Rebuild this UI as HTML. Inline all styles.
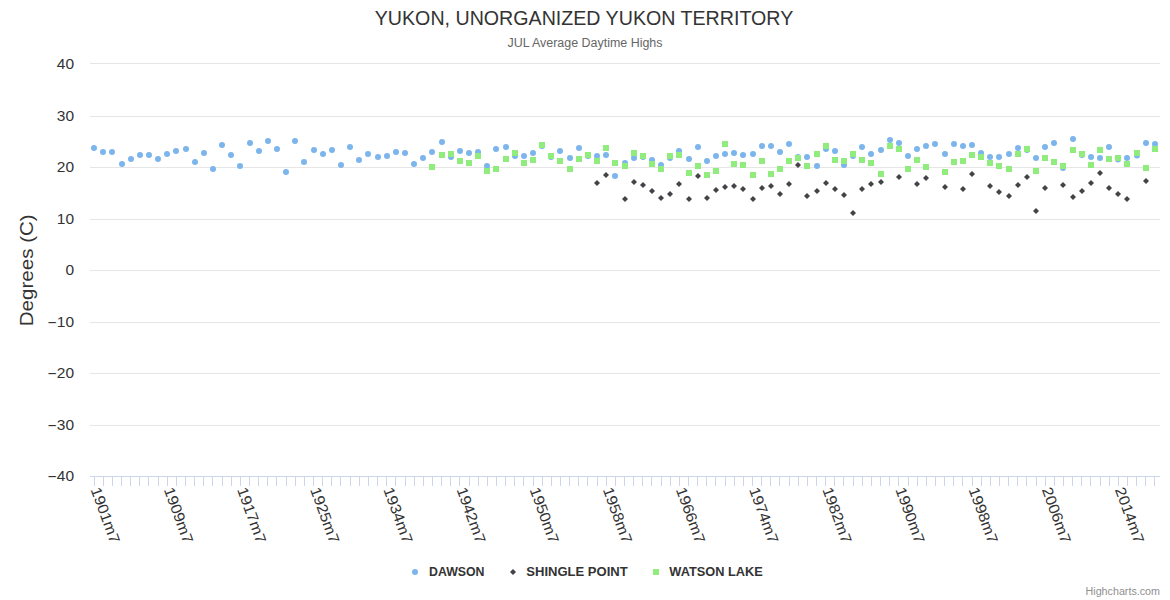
<!DOCTYPE html><html><head><meta charset="utf-8"><style>html,body{margin:0;padding:0;background:#fff;overflow:hidden;}svg{display:block;font-family:"Liberation Sans",sans-serif;}</style></head><body>
<svg width="1170" height="600" viewBox="0 0 1170 600">
<rect x="0" y="0" width="1170" height="600" fill="#ffffff"/>
<path d="M90 63.5 L1160 63.5 M90 116.5 L1160 116.5 M90 167.5 L1160 167.5 M90 219.5 L1160 219.5 M90 270.5 L1160 270.5 M90 322.5 L1160 322.5 M90 373.5 L1160 373.5 M90 425.5 L1160 425.5" stroke="#e6e6e6" stroke-width="1" fill="none"/>
<path d="M90 476.5 L1160 476.5" stroke="#ccd6eb" stroke-width="1" fill="none"/>
<path d="M94.5 476 L94.5 486 M103.5 476 L103.5 486 M112.5 476 L112.5 486 M121.5 476 L121.5 486 M130.5 476 L130.5 486 M139.5 476 L139.5 486 M148.5 476 L148.5 486 M158.5 476 L158.5 486 M167.5 476 L167.5 486 M176.5 476 L176.5 486 M185.5 476 L185.5 486 M194.5 476 L194.5 486 M203.5 476 L203.5 486 M212.5 476 L212.5 486 M222.5 476 L222.5 486 M231.5 476 L231.5 486 M240.5 476 L240.5 486 M249.5 476 L249.5 486 M258.5 476 L258.5 486 M267.5 476 L267.5 486 M276.5 476 L276.5 486 M286.5 476 L286.5 486 M295.5 476 L295.5 486 M304.5 476 L304.5 486 M313.5 476 L313.5 486 M322.5 476 L322.5 486 M331.5 476 L331.5 486 M340.5 476 L340.5 486 M350.5 476 L350.5 486 M359.5 476 L359.5 486 M368.5 476 L368.5 486 M377.5 476 L377.5 486 M386.5 476 L386.5 486 M395.5 476 L395.5 486 M405.5 476 L405.5 486 M414.5 476 L414.5 486 M423.5 476 L423.5 486 M432.5 476 L432.5 486 M441.5 476 L441.5 486 M450.5 476 L450.5 486 M459.5 476 L459.5 486 M469.5 476 L469.5 486 M478.5 476 L478.5 486 M487.5 476 L487.5 486 M496.5 476 L496.5 486 M505.5 476 L505.5 486 M514.5 476 L514.5 486 M523.5 476 L523.5 486 M533.5 476 L533.5 486 M542.5 476 L542.5 486 M551.5 476 L551.5 486 M560.5 476 L560.5 486 M569.5 476 L569.5 486 M578.5 476 L578.5 486 M587.5 476 L587.5 486 M597.5 476 L597.5 486 M606.5 476 L606.5 486 M615.5 476 L615.5 486 M624.5 476 L624.5 486 M633.5 476 L633.5 486 M642.5 476 L642.5 486 M651.5 476 L651.5 486 M661.5 476 L661.5 486 M670.5 476 L670.5 486 M679.5 476 L679.5 486 M688.5 476 L688.5 486 M697.5 476 L697.5 486 M706.5 476 L706.5 486 M715.5 476 L715.5 486 M725.5 476 L725.5 486 M734.5 476 L734.5 486 M743.5 476 L743.5 486 M752.5 476 L752.5 486 M761.5 476 L761.5 486 M770.5 476 L770.5 486 M779.5 476 L779.5 486 M789.5 476 L789.5 486 M798.5 476 L798.5 486 M807.5 476 L807.5 486 M816.5 476 L816.5 486 M825.5 476 L825.5 486 M834.5 476 L834.5 486 M843.5 476 L843.5 486 M853.5 476 L853.5 486 M862.5 476 L862.5 486 M871.5 476 L871.5 486 M880.5 476 L880.5 486 M889.5 476 L889.5 486 M898.5 476 L898.5 486 M908.5 476 L908.5 486 M917.5 476 L917.5 486 M926.5 476 L926.5 486 M935.5 476 L935.5 486 M944.5 476 L944.5 486 M953.5 476 L953.5 486 M962.5 476 L962.5 486 M972.5 476 L972.5 486 M981.5 476 L981.5 486 M990.5 476 L990.5 486 M999.5 476 L999.5 486 M1008.5 476 L1008.5 486 M1017.5 476 L1017.5 486 M1026.5 476 L1026.5 486 M1036.5 476 L1036.5 486 M1045.5 476 L1045.5 486 M1054.5 476 L1054.5 486 M1063.5 476 L1063.5 486 M1072.5 476 L1072.5 486 M1081.5 476 L1081.5 486 M1090.5 476 L1090.5 486 M1100.5 476 L1100.5 486 M1109.5 476 L1109.5 486 M1118.5 476 L1118.5 486 M1127.5 476 L1127.5 486 M1136.5 476 L1136.5 486 M1145.5 476 L1145.5 486 M1154.5 476 L1154.5 486" stroke="#ccd6eb" stroke-width="1" fill="none"/>
<text x="74.1" y="69.0" text-anchor="end" font-size="15.5" fill="#333333">40</text>
<text x="74.1" y="121.0" text-anchor="end" font-size="15.5" fill="#333333">30</text>
<text x="74.1" y="172.0" text-anchor="end" font-size="15.5" fill="#333333">20</text>
<text x="74.1" y="224.0" text-anchor="end" font-size="15.5" fill="#333333">10</text>
<text x="74.1" y="275.0" text-anchor="end" font-size="15.5" fill="#333333">0</text>
<text x="74.1" y="327.0" text-anchor="end" font-size="15.5" fill="#333333">10</text>
<text x="47.6" y="327.9" font-size="15.5" fill="#333333">−</text>
<text x="74.1" y="378.0" text-anchor="end" font-size="15.5" fill="#333333">20</text>
<text x="47.6" y="378.9" font-size="15.5" fill="#333333">−</text>
<text x="74.1" y="430.0" text-anchor="end" font-size="15.5" fill="#333333">30</text>
<text x="47.6" y="430.9" font-size="15.5" fill="#333333">−</text>
<text x="74.1" y="481.0" text-anchor="end" font-size="15.5" fill="#333333">40</text>
<text x="47.6" y="481.9" font-size="15.5" fill="#333333">−</text>
<text transform="translate(32.5,270.3) rotate(-90)" text-anchor="middle" font-size="19" fill="#333333" textLength="112" lengthAdjust="spacingAndGlyphs">Degrees (C)</text>
<text transform="translate(90.57,489.50) rotate(70.0)" font-size="15" fill="#333333" textLength="58.5" lengthAdjust="spacingAndGlyphs">1901m7</text>
<text transform="translate(163.74,489.50) rotate(70.0)" font-size="15" fill="#333333" textLength="58.5" lengthAdjust="spacingAndGlyphs">1909m7</text>
<text transform="translate(236.90,489.50) rotate(70.0)" font-size="15" fill="#333333" textLength="58.5" lengthAdjust="spacingAndGlyphs">1917m7</text>
<text transform="translate(310.06,489.50) rotate(70.0)" font-size="15" fill="#333333" textLength="58.5" lengthAdjust="spacingAndGlyphs">1925m7</text>
<text transform="translate(383.22,489.50) rotate(70.0)" font-size="15" fill="#333333" textLength="58.5" lengthAdjust="spacingAndGlyphs">1934m7</text>
<text transform="translate(456.38,489.50) rotate(70.0)" font-size="15" fill="#333333" textLength="58.5" lengthAdjust="spacingAndGlyphs">1942m7</text>
<text transform="translate(529.55,489.50) rotate(70.0)" font-size="15" fill="#333333" textLength="58.5" lengthAdjust="spacingAndGlyphs">1950m7</text>
<text transform="translate(602.71,489.50) rotate(70.0)" font-size="15" fill="#333333" textLength="58.5" lengthAdjust="spacingAndGlyphs">1958m7</text>
<text transform="translate(675.87,489.50) rotate(70.0)" font-size="15" fill="#333333" textLength="58.5" lengthAdjust="spacingAndGlyphs">1966m7</text>
<text transform="translate(749.03,489.50) rotate(70.0)" font-size="15" fill="#333333" textLength="58.5" lengthAdjust="spacingAndGlyphs">1974m7</text>
<text transform="translate(822.20,489.50) rotate(70.0)" font-size="15" fill="#333333" textLength="58.5" lengthAdjust="spacingAndGlyphs">1982m7</text>
<text transform="translate(895.36,489.50) rotate(70.0)" font-size="15" fill="#333333" textLength="58.5" lengthAdjust="spacingAndGlyphs">1990m7</text>
<text transform="translate(968.52,489.50) rotate(70.0)" font-size="15" fill="#333333" textLength="58.5" lengthAdjust="spacingAndGlyphs">1998m7</text>
<text transform="translate(1041.68,489.50) rotate(70.0)" font-size="15" fill="#333333" textLength="58.5" lengthAdjust="spacingAndGlyphs">2006m7</text>
<text transform="translate(1114.85,489.50) rotate(70.0)" font-size="15" fill="#333333" textLength="58.5" lengthAdjust="spacingAndGlyphs">2014m7</text>
<circle cx="94" cy="148.00" r="3" fill="#7cb5ec"/>
<circle cx="103" cy="152.00" r="3" fill="#7cb5ec"/>
<circle cx="112" cy="152.00" r="3" fill="#7cb5ec"/>
<circle cx="122" cy="164.00" r="3" fill="#7cb5ec"/>
<circle cx="131" cy="159.00" r="3" fill="#7cb5ec"/>
<circle cx="140" cy="155.00" r="3" fill="#7cb5ec"/>
<circle cx="149" cy="155.00" r="3" fill="#7cb5ec"/>
<circle cx="158" cy="159.00" r="3" fill="#7cb5ec"/>
<circle cx="167" cy="154.00" r="3" fill="#7cb5ec"/>
<circle cx="176" cy="151.00" r="3" fill="#7cb5ec"/>
<circle cx="186" cy="149.00" r="3" fill="#7cb5ec"/>
<circle cx="195" cy="162.00" r="3" fill="#7cb5ec"/>
<circle cx="204" cy="153.00" r="3" fill="#7cb5ec"/>
<circle cx="213" cy="169.00" r="3" fill="#7cb5ec"/>
<circle cx="222" cy="145.00" r="3" fill="#7cb5ec"/>
<circle cx="231" cy="155.00" r="3" fill="#7cb5ec"/>
<circle cx="240" cy="166.00" r="3" fill="#7cb5ec"/>
<circle cx="250" cy="143.00" r="3" fill="#7cb5ec"/>
<circle cx="259" cy="151.00" r="3" fill="#7cb5ec"/>
<circle cx="268" cy="141.00" r="3" fill="#7cb5ec"/>
<circle cx="277" cy="149.00" r="3" fill="#7cb5ec"/>
<circle cx="286" cy="172.00" r="3" fill="#7cb5ec"/>
<circle cx="295" cy="141.00" r="3" fill="#7cb5ec"/>
<circle cx="304" cy="162.00" r="3" fill="#7cb5ec"/>
<circle cx="314" cy="150.00" r="3" fill="#7cb5ec"/>
<circle cx="323" cy="154.00" r="3" fill="#7cb5ec"/>
<circle cx="332" cy="150.00" r="3" fill="#7cb5ec"/>
<circle cx="341" cy="165.00" r="3" fill="#7cb5ec"/>
<circle cx="350" cy="147.00" r="3" fill="#7cb5ec"/>
<circle cx="359" cy="160.00" r="3" fill="#7cb5ec"/>
<circle cx="368" cy="154.00" r="3" fill="#7cb5ec"/>
<circle cx="378" cy="157.00" r="3" fill="#7cb5ec"/>
<circle cx="387" cy="156.00" r="3" fill="#7cb5ec"/>
<circle cx="396" cy="152.00" r="3" fill="#7cb5ec"/>
<circle cx="405" cy="153.00" r="3" fill="#7cb5ec"/>
<circle cx="414" cy="164.00" r="3" fill="#7cb5ec"/>
<circle cx="423" cy="158.00" r="3" fill="#7cb5ec"/>
<circle cx="432" cy="152.00" r="3" fill="#7cb5ec"/>
<circle cx="442" cy="142.00" r="3" fill="#7cb5ec"/>
<circle cx="451" cy="157.00" r="3" fill="#7cb5ec"/>
<circle cx="460" cy="151.00" r="3" fill="#7cb5ec"/>
<circle cx="469" cy="153.00" r="3" fill="#7cb5ec"/>
<circle cx="478" cy="152.00" r="3" fill="#7cb5ec"/>
<circle cx="487" cy="166.00" r="3" fill="#7cb5ec"/>
<circle cx="496" cy="149.00" r="3" fill="#7cb5ec"/>
<circle cx="506" cy="147.00" r="3" fill="#7cb5ec"/>
<circle cx="515" cy="156.00" r="3" fill="#7cb5ec"/>
<circle cx="524" cy="156.00" r="3" fill="#7cb5ec"/>
<circle cx="533" cy="153.00" r="3" fill="#7cb5ec"/>
<circle cx="542" cy="146.00" r="3" fill="#7cb5ec"/>
<circle cx="551" cy="157.00" r="3" fill="#7cb5ec"/>
<circle cx="560" cy="151.00" r="3" fill="#7cb5ec"/>
<circle cx="570" cy="158.00" r="3" fill="#7cb5ec"/>
<circle cx="579" cy="148.00" r="3" fill="#7cb5ec"/>
<circle cx="588" cy="156.00" r="3" fill="#7cb5ec"/>
<circle cx="597" cy="156.00" r="3" fill="#7cb5ec"/>
<circle cx="606" cy="155.00" r="3" fill="#7cb5ec"/>
<circle cx="615" cy="176.00" r="3" fill="#7cb5ec"/>
<circle cx="625" cy="163.00" r="3" fill="#7cb5ec"/>
<circle cx="634" cy="158.00" r="3" fill="#7cb5ec"/>
<circle cx="643" cy="157.00" r="3" fill="#7cb5ec"/>
<circle cx="652" cy="160.00" r="3" fill="#7cb5ec"/>
<circle cx="661" cy="165.00" r="3" fill="#7cb5ec"/>
<circle cx="670" cy="158.00" r="3" fill="#7cb5ec"/>
<circle cx="679" cy="151.00" r="3" fill="#7cb5ec"/>
<circle cx="689" cy="159.00" r="3" fill="#7cb5ec"/>
<circle cx="698" cy="147.00" r="3" fill="#7cb5ec"/>
<circle cx="707" cy="161.00" r="3" fill="#7cb5ec"/>
<circle cx="716" cy="156.00" r="3" fill="#7cb5ec"/>
<circle cx="725" cy="154.00" r="3" fill="#7cb5ec"/>
<circle cx="734" cy="153.00" r="3" fill="#7cb5ec"/>
<circle cx="743" cy="155.00" r="3" fill="#7cb5ec"/>
<circle cx="753" cy="154.00" r="3" fill="#7cb5ec"/>
<circle cx="762" cy="146.00" r="3" fill="#7cb5ec"/>
<circle cx="771" cy="146.00" r="3" fill="#7cb5ec"/>
<circle cx="780" cy="152.00" r="3" fill="#7cb5ec"/>
<circle cx="789" cy="144.00" r="3" fill="#7cb5ec"/>
<circle cx="798" cy="157.00" r="3" fill="#7cb5ec"/>
<circle cx="807" cy="157.00" r="3" fill="#7cb5ec"/>
<circle cx="817" cy="166.00" r="3" fill="#7cb5ec"/>
<circle cx="826" cy="149.00" r="3" fill="#7cb5ec"/>
<circle cx="835" cy="151.00" r="3" fill="#7cb5ec"/>
<circle cx="844" cy="165.00" r="3" fill="#7cb5ec"/>
<circle cx="853" cy="156.00" r="3" fill="#7cb5ec"/>
<circle cx="862" cy="147.00" r="3" fill="#7cb5ec"/>
<circle cx="871" cy="154.00" r="3" fill="#7cb5ec"/>
<circle cx="881" cy="150.00" r="3" fill="#7cb5ec"/>
<circle cx="890" cy="140.00" r="3" fill="#7cb5ec"/>
<circle cx="899" cy="143.00" r="3" fill="#7cb5ec"/>
<circle cx="908" cy="156.00" r="3" fill="#7cb5ec"/>
<circle cx="917" cy="149.00" r="3" fill="#7cb5ec"/>
<circle cx="926" cy="146.00" r="3" fill="#7cb5ec"/>
<circle cx="935" cy="144.00" r="3" fill="#7cb5ec"/>
<circle cx="945" cy="154.00" r="3" fill="#7cb5ec"/>
<circle cx="954" cy="144.00" r="3" fill="#7cb5ec"/>
<circle cx="963" cy="146.00" r="3" fill="#7cb5ec"/>
<circle cx="972" cy="145.00" r="3" fill="#7cb5ec"/>
<circle cx="981" cy="153.00" r="3" fill="#7cb5ec"/>
<circle cx="990" cy="157.00" r="3" fill="#7cb5ec"/>
<circle cx="999" cy="157.00" r="3" fill="#7cb5ec"/>
<circle cx="1009" cy="154.00" r="3" fill="#7cb5ec"/>
<circle cx="1018" cy="148.00" r="3" fill="#7cb5ec"/>
<circle cx="1027" cy="150.00" r="3" fill="#7cb5ec"/>
<circle cx="1036" cy="158.00" r="3" fill="#7cb5ec"/>
<circle cx="1045" cy="147.00" r="3" fill="#7cb5ec"/>
<circle cx="1054" cy="143.00" r="3" fill="#7cb5ec"/>
<circle cx="1063" cy="168.00" r="3" fill="#7cb5ec"/>
<circle cx="1073" cy="139.00" r="3" fill="#7cb5ec"/>
<circle cx="1082" cy="155.00" r="3" fill="#7cb5ec"/>
<circle cx="1091" cy="157.00" r="3" fill="#7cb5ec"/>
<circle cx="1100" cy="158.00" r="3" fill="#7cb5ec"/>
<circle cx="1109" cy="147.00" r="3" fill="#7cb5ec"/>
<circle cx="1118" cy="159.50" r="3" fill="#7cb5ec"/>
<circle cx="1127" cy="158.00" r="3" fill="#7cb5ec"/>
<circle cx="1137" cy="155.50" r="3" fill="#7cb5ec"/>
<circle cx="1146" cy="143.00" r="3" fill="#7cb5ec"/>
<circle cx="1155" cy="144.00" r="3" fill="#7cb5ec"/>
<path d="M597 180.00 L600 183.00 L597 186.00 L594 183.00 Z" fill="#434348"/>
<path d="M606 172.00 L609 175.00 L606 178.00 L603 175.00 Z" fill="#434348"/>
<path d="M625 196.00 L628 199.00 L625 202.00 L622 199.00 Z" fill="#434348"/>
<path d="M634 179.00 L637 182.00 L634 185.00 L631 182.00 Z" fill="#434348"/>
<path d="M643 182.00 L646 185.00 L643 188.00 L640 185.00 Z" fill="#434348"/>
<path d="M652 188.00 L655 191.00 L652 194.00 L649 191.00 Z" fill="#434348"/>
<path d="M661 195.00 L664 198.00 L661 201.00 L658 198.00 Z" fill="#434348"/>
<path d="M670 191.00 L673 194.00 L670 197.00 L667 194.00 Z" fill="#434348"/>
<path d="M679 181.00 L682 184.00 L679 187.00 L676 184.00 Z" fill="#434348"/>
<path d="M689 196.00 L692 199.00 L689 202.00 L686 199.00 Z" fill="#434348"/>
<path d="M698 173.00 L701 176.00 L698 179.00 L695 176.00 Z" fill="#434348"/>
<path d="M707 195.00 L710 198.00 L707 201.00 L704 198.00 Z" fill="#434348"/>
<path d="M716 187.00 L719 190.00 L716 193.00 L713 190.00 Z" fill="#434348"/>
<path d="M725 184.00 L728 187.00 L725 190.00 L722 187.00 Z" fill="#434348"/>
<path d="M734 183.00 L737 186.00 L734 189.00 L731 186.00 Z" fill="#434348"/>
<path d="M743 186.00 L746 189.00 L743 192.00 L740 189.00 Z" fill="#434348"/>
<path d="M753 196.00 L756 199.00 L753 202.00 L750 199.00 Z" fill="#434348"/>
<path d="M762 185.00 L765 188.00 L762 191.00 L759 188.00 Z" fill="#434348"/>
<path d="M771 183.00 L774 186.00 L771 189.00 L768 186.00 Z" fill="#434348"/>
<path d="M780 191.00 L783 194.00 L780 197.00 L777 194.00 Z" fill="#434348"/>
<path d="M789 181.00 L792 184.00 L789 187.00 L786 184.00 Z" fill="#434348"/>
<path d="M798 162.00 L801 165.00 L798 168.00 L795 165.00 Z" fill="#434348"/>
<path d="M807 193.00 L810 196.00 L807 199.00 L804 196.00 Z" fill="#434348"/>
<path d="M817 188.00 L820 191.00 L817 194.00 L814 191.00 Z" fill="#434348"/>
<path d="M826 180.00 L829 183.00 L826 186.00 L823 183.00 Z" fill="#434348"/>
<path d="M835 186.00 L838 189.00 L835 192.00 L832 189.00 Z" fill="#434348"/>
<path d="M844 192.00 L847 195.00 L844 198.00 L841 195.00 Z" fill="#434348"/>
<path d="M853 210.00 L856 213.00 L853 216.00 L850 213.00 Z" fill="#434348"/>
<path d="M862 186.00 L865 189.00 L862 192.00 L859 189.00 Z" fill="#434348"/>
<path d="M871 181.00 L874 184.00 L871 187.00 L868 184.00 Z" fill="#434348"/>
<path d="M881 179.00 L884 182.00 L881 185.00 L878 182.00 Z" fill="#434348"/>
<path d="M899 174.00 L902 177.00 L899 180.00 L896 177.00 Z" fill="#434348"/>
<path d="M917 181.00 L920 184.00 L917 187.00 L914 184.00 Z" fill="#434348"/>
<path d="M926 175.00 L929 178.00 L926 181.00 L923 178.00 Z" fill="#434348"/>
<path d="M945 184.00 L948 187.00 L945 190.00 L942 187.00 Z" fill="#434348"/>
<path d="M963 186.00 L966 189.00 L963 192.00 L960 189.00 Z" fill="#434348"/>
<path d="M972 171.00 L975 174.00 L972 177.00 L969 174.00 Z" fill="#434348"/>
<path d="M990 183.00 L993 186.00 L990 189.00 L987 186.00 Z" fill="#434348"/>
<path d="M999 189.00 L1002 192.00 L999 195.00 L996 192.00 Z" fill="#434348"/>
<path d="M1009 193.00 L1012 196.00 L1009 199.00 L1006 196.00 Z" fill="#434348"/>
<path d="M1018 182.00 L1021 185.00 L1018 188.00 L1015 185.00 Z" fill="#434348"/>
<path d="M1027 174.00 L1030 177.00 L1027 180.00 L1024 177.00 Z" fill="#434348"/>
<path d="M1036 208.00 L1039 211.00 L1036 214.00 L1033 211.00 Z" fill="#434348"/>
<path d="M1045 185.00 L1048 188.00 L1045 191.00 L1042 188.00 Z" fill="#434348"/>
<path d="M1063 182.00 L1066 185.00 L1063 188.00 L1060 185.00 Z" fill="#434348"/>
<path d="M1073 194.00 L1076 197.00 L1073 200.00 L1070 197.00 Z" fill="#434348"/>
<path d="M1082 188.00 L1085 191.00 L1082 194.00 L1079 191.00 Z" fill="#434348"/>
<path d="M1091 180.00 L1094 183.00 L1091 186.00 L1088 183.00 Z" fill="#434348"/>
<path d="M1100 170.00 L1103 173.00 L1100 176.00 L1097 173.00 Z" fill="#434348"/>
<path d="M1109 185.00 L1112 188.00 L1109 191.00 L1106 188.00 Z" fill="#434348"/>
<path d="M1118 191.00 L1121 194.00 L1118 197.00 L1115 194.00 Z" fill="#434348"/>
<path d="M1127 196.00 L1130 199.00 L1127 202.00 L1124 199.00 Z" fill="#434348"/>
<path d="M1146 178.00 L1149 181.00 L1146 184.00 L1143 181.00 Z" fill="#434348"/>
<rect x="429" y="164.00" width="6" height="6" fill="#90ed7d"/>
<rect x="439" y="152.00" width="6" height="6" fill="#90ed7d"/>
<rect x="448" y="151.00" width="6" height="6" fill="#90ed7d"/>
<rect x="457" y="158.00" width="6" height="6" fill="#90ed7d"/>
<rect x="466" y="160.00" width="6" height="6" fill="#90ed7d"/>
<rect x="475" y="153.00" width="6" height="6" fill="#90ed7d"/>
<rect x="484" y="168.00" width="6" height="6" fill="#90ed7d"/>
<rect x="493" y="166.00" width="6" height="6" fill="#90ed7d"/>
<rect x="503" y="156.00" width="6" height="6" fill="#90ed7d"/>
<rect x="512" y="150.00" width="6" height="6" fill="#90ed7d"/>
<rect x="521" y="160.00" width="6" height="6" fill="#90ed7d"/>
<rect x="530" y="157.00" width="6" height="6" fill="#90ed7d"/>
<rect x="539" y="142.00" width="6" height="6" fill="#90ed7d"/>
<rect x="548" y="153.00" width="6" height="6" fill="#90ed7d"/>
<rect x="557" y="158.00" width="6" height="6" fill="#90ed7d"/>
<rect x="567" y="166.00" width="6" height="6" fill="#90ed7d"/>
<rect x="576" y="156.00" width="6" height="6" fill="#90ed7d"/>
<rect x="585" y="152.00" width="6" height="6" fill="#90ed7d"/>
<rect x="594" y="158.00" width="6" height="6" fill="#90ed7d"/>
<rect x="603" y="145.00" width="6" height="6" fill="#90ed7d"/>
<rect x="612" y="160.00" width="6" height="6" fill="#90ed7d"/>
<rect x="622" y="163.00" width="6" height="6" fill="#90ed7d"/>
<rect x="631" y="150.00" width="6" height="6" fill="#90ed7d"/>
<rect x="640" y="153.00" width="6" height="6" fill="#90ed7d"/>
<rect x="649" y="161.00" width="6" height="6" fill="#90ed7d"/>
<rect x="658" y="166.00" width="6" height="6" fill="#90ed7d"/>
<rect x="667" y="153.00" width="6" height="6" fill="#90ed7d"/>
<rect x="676" y="152.00" width="6" height="6" fill="#90ed7d"/>
<rect x="686" y="170.00" width="6" height="6" fill="#90ed7d"/>
<rect x="695" y="163.00" width="6" height="6" fill="#90ed7d"/>
<rect x="704" y="172.00" width="6" height="6" fill="#90ed7d"/>
<rect x="713" y="168.00" width="6" height="6" fill="#90ed7d"/>
<rect x="722" y="141.00" width="6" height="6" fill="#90ed7d"/>
<rect x="731" y="161.00" width="6" height="6" fill="#90ed7d"/>
<rect x="740" y="162.00" width="6" height="6" fill="#90ed7d"/>
<rect x="750" y="172.00" width="6" height="6" fill="#90ed7d"/>
<rect x="759" y="158.00" width="6" height="6" fill="#90ed7d"/>
<rect x="768" y="171.00" width="6" height="6" fill="#90ed7d"/>
<rect x="777" y="166.00" width="6" height="6" fill="#90ed7d"/>
<rect x="786" y="158.00" width="6" height="6" fill="#90ed7d"/>
<rect x="795" y="155.00" width="6" height="6" fill="#90ed7d"/>
<rect x="804" y="163.00" width="6" height="6" fill="#90ed7d"/>
<rect x="814" y="151.00" width="6" height="6" fill="#90ed7d"/>
<rect x="823" y="143.00" width="6" height="6" fill="#90ed7d"/>
<rect x="832" y="157.00" width="6" height="6" fill="#90ed7d"/>
<rect x="841" y="158.00" width="6" height="6" fill="#90ed7d"/>
<rect x="850" y="151.00" width="6" height="6" fill="#90ed7d"/>
<rect x="859" y="157.00" width="6" height="6" fill="#90ed7d"/>
<rect x="868" y="160.00" width="6" height="6" fill="#90ed7d"/>
<rect x="878" y="171.00" width="6" height="6" fill="#90ed7d"/>
<rect x="887" y="143.00" width="6" height="6" fill="#90ed7d"/>
<rect x="896" y="146.00" width="6" height="6" fill="#90ed7d"/>
<rect x="905" y="166.00" width="6" height="6" fill="#90ed7d"/>
<rect x="914" y="157.00" width="6" height="6" fill="#90ed7d"/>
<rect x="923" y="164.00" width="6" height="6" fill="#90ed7d"/>
<rect x="942" y="169.00" width="6" height="6" fill="#90ed7d"/>
<rect x="951" y="159.00" width="6" height="6" fill="#90ed7d"/>
<rect x="960" y="158.00" width="6" height="6" fill="#90ed7d"/>
<rect x="969" y="152.00" width="6" height="6" fill="#90ed7d"/>
<rect x="978" y="154.00" width="6" height="6" fill="#90ed7d"/>
<rect x="987" y="160.00" width="6" height="6" fill="#90ed7d"/>
<rect x="996" y="163.00" width="6" height="6" fill="#90ed7d"/>
<rect x="1006" y="166.00" width="6" height="6" fill="#90ed7d"/>
<rect x="1015" y="151.00" width="6" height="6" fill="#90ed7d"/>
<rect x="1024" y="146.00" width="6" height="6" fill="#90ed7d"/>
<rect x="1033" y="168.00" width="6" height="6" fill="#90ed7d"/>
<rect x="1042" y="155.00" width="6" height="6" fill="#90ed7d"/>
<rect x="1051" y="159.00" width="6" height="6" fill="#90ed7d"/>
<rect x="1060" y="163.00" width="6" height="6" fill="#90ed7d"/>
<rect x="1070" y="147.00" width="6" height="6" fill="#90ed7d"/>
<rect x="1079" y="151.00" width="6" height="6" fill="#90ed7d"/>
<rect x="1088" y="162.00" width="6" height="6" fill="#90ed7d"/>
<rect x="1097" y="147.00" width="6" height="6" fill="#90ed7d"/>
<rect x="1106" y="156.00" width="6" height="6" fill="#90ed7d"/>
<rect x="1115" y="155.00" width="6" height="6" fill="#90ed7d"/>
<rect x="1124" y="161.00" width="6" height="6" fill="#90ed7d"/>
<rect x="1134" y="150.00" width="6" height="6" fill="#90ed7d"/>
<rect x="1143" y="165.00" width="6" height="6" fill="#90ed7d"/>
<rect x="1152" y="146.00" width="6" height="6" fill="#90ed7d"/>
<text x="584" y="25" text-anchor="middle" font-size="19.7" fill="#333333" textLength="418.5" lengthAdjust="spacingAndGlyphs">YUKON, UNORGANIZED YUKON TERRITORY</text>
<text x="585" y="47" text-anchor="middle" font-size="12" fill="#666666" textLength="155" lengthAdjust="spacingAndGlyphs">JUL Average Daytime Highs</text>
<circle cx="415" cy="572" r="3" fill="#7cb5ec"/>
<text x="429" y="576" font-size="12" font-weight="bold" fill="#333333" textLength="55.5" lengthAdjust="spacingAndGlyphs">DAWSON</text>
<path d="M513 569 L516 572 L513 575 L510 572 Z" fill="#434348"/>
<text x="526.3" y="576" font-size="12" font-weight="bold" fill="#333333" textLength="101.4" lengthAdjust="spacingAndGlyphs">SHINGLE POINT</text>
<rect x="653" y="569" width="6" height="6" fill="#90ed7d"/>
<text x="669.3" y="576" font-size="12" font-weight="bold" fill="#333333" textLength="93.4" lengthAdjust="spacingAndGlyphs">WATSON LAKE</text>
<text x="1160" y="595" text-anchor="end" font-size="10" fill="#909090" textLength="74.5" lengthAdjust="spacingAndGlyphs">Highcharts.com</text>
</svg></body></html>
